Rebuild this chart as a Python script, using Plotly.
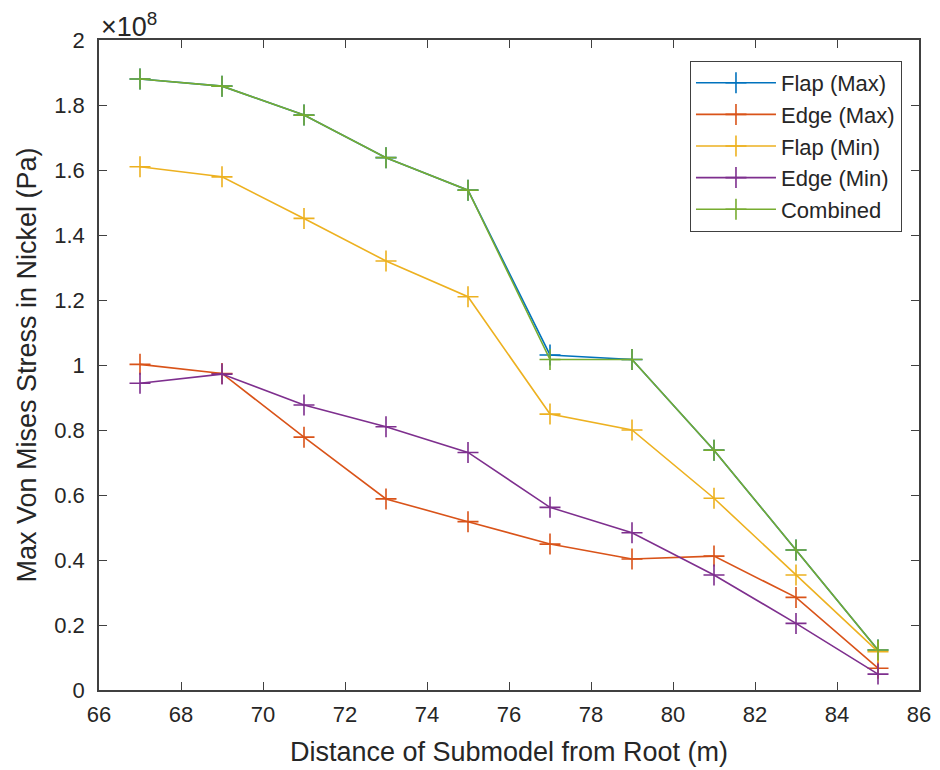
import plotly.graph_objects as go

# Distance of submodel from root (m)
distance = [67, 69, 71, 73, 75, 77, 79, 81, 83, 85]

# Max Von Mises stress (x 1e8 Pa)
flap_max = [1.880, 1.858, 1.769, 1.638, 1.538, 1.031, 1.017, 0.738, 0.431, 0.123]
edge_max = [1.002, 0.974, 0.778, 0.588, 0.518, 0.449, 0.403, 0.412, 0.285, 0.067]
flap_min = [1.610, 1.579, 1.451, 1.320, 1.210, 0.849, 0.800, 0.590, 0.354, 0.118]
edge_min = [0.944, 0.972, 0.877, 0.810, 0.731, 0.562, 0.484, 0.354, 0.205, 0.049]
combined = [1.880, 1.858, 1.769, 1.638, 1.538, 1.017, 1.017, 0.738, 0.431, 0.123]

series = [
    ("Flap (Max)", flap_max, "#0072BD"),
    ("Edge (Max)", edge_max, "#D95319"),
    ("Flap (Min)", flap_min, "#EDB120"),
    ("Edge (Min)", edge_min, "#7E2F8E"),
    ("Combined", combined, "#77AC30"),
]

x_ticks = [66, 68, 70, 72, 74, 76, 78, 80, 82, 84, 86]
y_ticks = [0, 0.2, 0.4, 0.6, 0.8, 1, 1.2, 1.4, 1.6, 1.8, 2]
y_ticklabels = ["0", "0.2", "0.4", "0.6", "0.8", "1", "1.2", "1.4", "1.6", "1.8", "2"]

FONT = "Liberation Sans, Arial, sans-serif"
TXT = "#262626"
AX = "#404040"

fig = go.Figure()
for name, vals, col in series:
    fig.add_trace(go.Scatter(
        x=distance, y=vals, name=name, mode="lines+markers",
        line=dict(color=col, width=1.6),
        marker=dict(symbol="cross-thin", size=15, line=dict(color=col, width=1.6)),
    ))

fig.update_layout(
    width=932, height=762,
    margin=dict(l=91, r=21, t=32, b=80),
    paper_bgcolor="white", plot_bgcolor="white",
    font=dict(family=FONT, size=22, color=TXT),
    showlegend=True,
    legend=dict(
        x=0.979, y=0.968, xanchor="right", yanchor="top",
        bgcolor="white", bordercolor=AX, borderwidth=1.2,
        font=dict(size=22, color=TXT),
        tracegroupgap=0, itemwidth=80,
    ),
    xaxis=dict(
        range=[66, 86], tickvals=x_ticks, ticks="inside", ticklen=8,
        tickcolor=AX, showline=True, linecolor=AX, linewidth=1.5, mirror="ticks",
        showgrid=False, zeroline=False, ticklabelstandoff=4, automargin=False,
        title=dict(text="Distance of Submodel from Root (m)", font=dict(size=27, color=TXT), standoff=16),
        tickfont=dict(size=22, color=TXT),
    ),
    yaxis=dict(
        range=[0, 2], tickvals=y_ticks, ticktext=y_ticklabels, ticks="inside", ticklen=8,
        tickcolor=AX, showline=True, linecolor=AX, linewidth=1.5, mirror="ticks",
        showgrid=False, zeroline=False, ticklabelstandoff=8, automargin=False,
        title=dict(text="Max Von Mises Stress in Nickel (Pa)", font=dict(size=27, color=TXT), standoff=10),
        tickfont=dict(size=22, color=TXT),
    ),
    annotations=[dict(
        text="×10<sup>8</sup>", xref="paper", yref="paper", x=0, y=1.0,
        xanchor="left", yanchor="bottom", showarrow=False,
        font=dict(size=27, color=TXT), yshift=-4,
    )],
)

fig.write_html("out.html")
